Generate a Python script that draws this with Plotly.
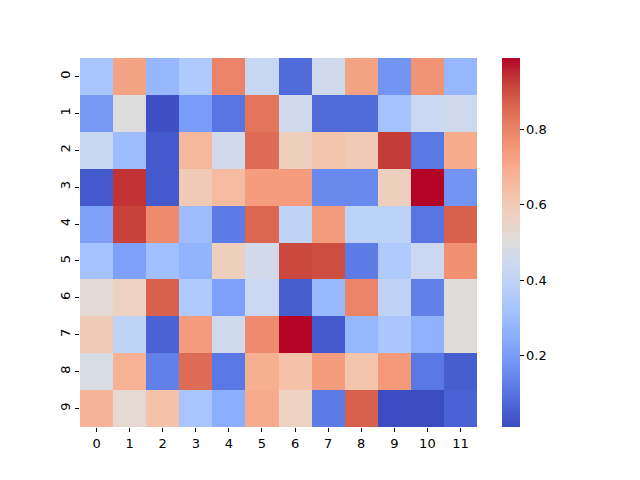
import plotly.graph_objects as go

# Data
ROWS = list(range(10))
COLS = list(range(12))

row_0 = [0.33, 0.72, 0.28, 0.35, 0.80, 0.42, 0.08, 0.45, 0.72, 0.18, 0.76, 0.28]
row_1 = [0.19, 0.50, 0.02, 0.20, 0.10, 0.83, 0.45, 0.08, 0.08, 0.32, 0.44, 0.45]
row_2 = [0.42, 0.30, 0.04, 0.66, 0.46, 0.85, 0.58, 0.62, 0.60, 0.93, 0.11, 0.70]
row_3 = [0.04, 0.94, 0.04, 0.60, 0.65, 0.74, 0.74, 0.15, 0.15, 0.58, 0.99, 0.18]
row_4 = [0.21, 0.92, 0.78, 0.30, 0.12, 0.86, 0.40, 0.74, 0.39, 0.39, 0.10, 0.87]
row_5 = [0.32, 0.21, 0.31, 0.27, 0.58, 0.46, 0.91, 0.90, 0.12, 0.35, 0.44, 0.77]
row_6 = [0.52, 0.57, 0.87, 0.35, 0.21, 0.44, 0.05, 0.29, 0.80, 0.40, 0.13, 0.51]
row_7 = [0.60, 0.40, 0.06, 0.74, 0.45, 0.78, 0.99, 0.04, 0.28, 0.34, 0.26, 0.51]
row_8 = [0.48, 0.68, 0.13, 0.85, 0.11, 0.69, 0.63, 0.74, 0.62, 0.75, 0.11, 0.05]
row_9 = [0.67, 0.53, 0.63, 0.33, 0.25, 0.70, 0.57, 0.12, 0.87, 0.01, 0.01, 0.06]

values = [row_0, row_1, row_2, row_3, row_4, row_5, row_6, row_7, row_8, row_9]

CBAR_TICKS = [0.2, 0.4, 0.6, 0.8]

# matplotlib "coolwarm", sampled
COOLWARM = [
    [0.0,    "rgb(59,76,192)"],
    [0.0625, "rgb(77,103,215)"],
    [0.125,  "rgb(98,130,234)"],
    [0.1875, "rgb(119,154,247)"],
    [0.25,   "rgb(141,176,254)"],
    [0.3125, "rgb(163,194,255)"],
    [0.375,  "rgb(184,208,249)"],
    [0.4375, "rgb(204,216,241)"],
    [0.5,    "rgb(221,220,220)"],
    [0.5625, "rgb(236,211,197)"],
    [0.625,  "rgb(244,196,172)"],
    [0.6875, "rgb(247,177,148)"],
    [0.75,   "rgb(244,154,123)"],
    [0.8125, "rgb(233,128,101)"],
    [0.875,  "rgb(217,99,78)"],
    [0.9375, "rgb(196,60,55)"],
    [1.0,    "rgb(180,4,38)"],
]

FONT = "DejaVu Sans"

fig = go.Figure(go.Heatmap(
    z=values, x=COLS, y=ROWS,
    colorscale=COOLWARM,
    zmin=min(min(r) for r in values), zmax=max(max(r) for r in values),
    colorbar=dict(
        x=1.063, xanchor="left", xpad=0,
        y=0.5, yanchor="middle", ypad=0,
        len=1, lenmode="fraction", thickness=18,
        outlinewidth=0, tickvals=CBAR_TICKS,
        ticks="outside", ticklen=4, tickcolor="black",
        tickfont=dict(family=FONT, size=13, color="black"),
    ),
))

# page body has an 8px margin, so the figure is shrunk by that much
fig.update_layout(
    width=632, height=472,
    margin=dict(l=72, r=163, t=50, b=53),
    plot_bgcolor="white", paper_bgcolor="white",
    font=dict(family=FONT, size=13, color="black"),
)
fig.update_xaxes(
    tickvals=COLS, ticks="outside", ticklen=4, tickcolor="black",
    showgrid=False, zeroline=False, showline=False,
    range=[-0.5, 11.5],
)
fig.update_yaxes(
    tickvals=ROWS, ticks="outside", ticklen=4, tickcolor="black",
    tickangle=-90, showgrid=False, zeroline=False, showline=False,
    range=[9.5, -0.5],
)

fig.write_html("out.html")
